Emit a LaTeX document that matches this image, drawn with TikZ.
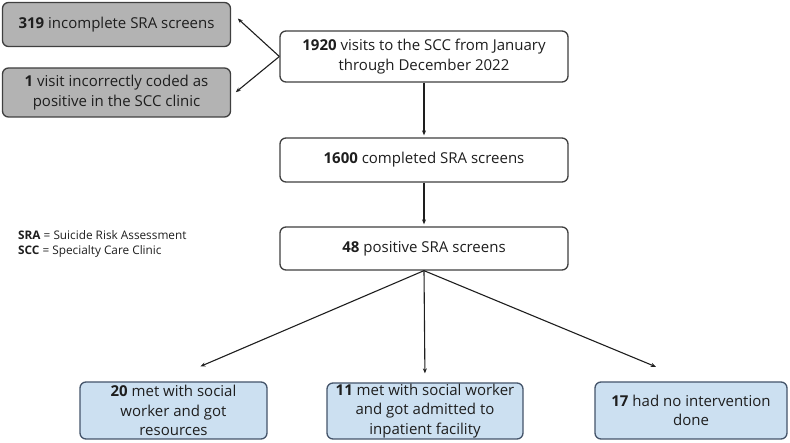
\documentclass[tikz,border=0pt]{standalone}
\usepackage{fontspec}
\setmainfont{Open Sans}
\usetikzlibrary{arrows.meta}

\definecolor{greyfill}{HTML}{B3B3B3}
\definecolor{greyline}{HTML}{3F3F3F}
\definecolor{bluefill}{HTML}{CCE0F1}
\definecolor{blueline}{HTML}{44546A}
\definecolor{inkcol}{HTML}{1E1E1E}

\begin{document}
\begin{tikzpicture}[x=1pt,y=-1pt,
  font=\fontsize{15}{19.5}\selectfont, text=inkcol,
  box/.style={draw=greyline,line width=1.3pt,rounded corners=6pt,align=center,inner sep=0pt},
  whitebox/.style={box,fill=white,minimum width=288pt},
  greybox/.style={box,fill=greyfill,minimum width=228pt},
  bluebox/.style={box,draw=blueline,fill=bluefill,minimum height=57pt},
  flow/.style={draw=inkcol,line width=1.1pt,-{Stealth[length=5pt,width=4pt]}}]
\useasboundingbox (0,0) rectangle (790,443);
% top row
\path (424,56.5) node (visits) [whitebox,minimum height=51pt] {\textbf{1920} visits to the SCC from January\\through December 2022};
\path (116.5,24.5) node (incomplete) [greybox,minimum height=44pt] {\textbf{319} incomplete SRA screens};
\path (116.5,92.5) node (miscoded) [greybox,minimum height=49pt] {\textbf{1} visit incorrectly coded as\\positive in the SCC clinic};
% middle
\path (424,160) node (completed) [whitebox,minimum height=44pt] {\textbf{1600} completed SRA screens};
\path (424,248.5) node (positive) [whitebox,minimum height=43pt] {\textbf{48} positive SRA screens};
\path (18,243.5) node (legend) [anchor=west,align=left,inner sep=0pt,font=\fontsize{11.8}{15}\selectfont] {\textbf{SRA} = Suicide Risk Assessment\\\textbf{SCC} = Specialty Care Clinic};
% outcomes
\path (173.5,410.5) node (resources) [bluebox,minimum width=187pt] {\textbf{20} met with social\\worker and got\\resources};
\path (425,411) node (admitted) [bluebox,minimum width=196pt,minimum height=56pt] {\textbf{11} met with social worker\\and got admitted to\\inpatient facility};
\path (691,410.5) node (nointerv) [bluebox,minimum width=192pt] {\textbf{17} had no intervention\\done};

\draw [flow,shorten >=9pt] (visits.west) to ([yshift=12pt]incomplete.east);
\draw [flow,shorten >=6pt] (visits.west) to ([yshift=-3.5pt]miscoded.east);
\draw [flow,shorten >=2pt] (visits) to (completed);
\draw [flow,shorten >=2pt] (completed) to (positive);
\draw [flow,shorten >=38pt] (positive.south) to ([xshift=-8pt]resources.north);
\draw [flow,shorten >=9pt] (positive.south) to (admitted.north);
\draw [flow,shorten >=38pt] (positive.south) to (nointerv.north);
\end{tikzpicture}
\end{document}
